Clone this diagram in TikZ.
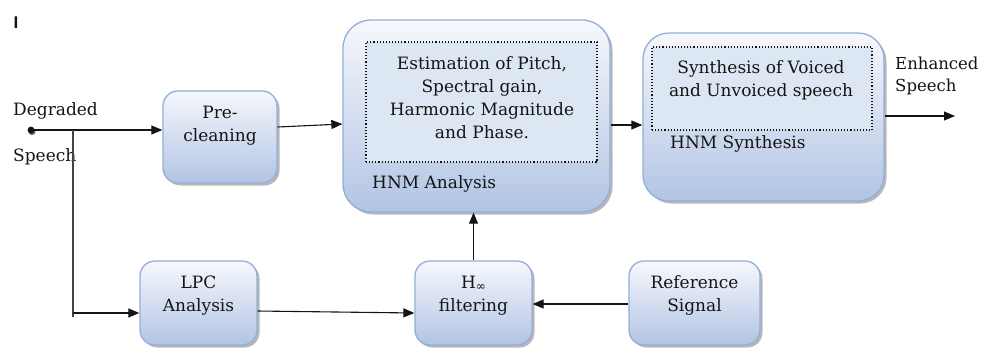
\documentclass[tikz,border=0pt]{standalone}
\usepackage{fontspec}
\setmainfont{DejaVu Serif}
\newfontfamily\barfont{Liberation Sans}
\usetikzlibrary{arrows.meta,shadows}
\definecolor{blocktop}{HTML}{F6F8FC}
\definecolor{blockbot}{HTML}{B2C4E4}
\definecolor{blockedge}{HTML}{93AEDA}
\definecolor{innerfill}{HTML}{DDE7F4}
\definecolor{ink}{HTML}{141414}
\newcommand\blocktext{\fontsize{17pt}{23pt}\selectfont}
\begin{document}
\begin{tikzpicture}[x=1pt,y=-1pt,
  blk/.style={draw=blockedge, line width=1.3pt, rounded corners=#1,
    top color=blocktop, bottom color=blockbot, inner sep=0pt,
    drop shadow={shadow xshift=2.5pt, shadow yshift=-2.5pt, opacity=0.4, fill=black!70}},
  inner/.style={draw=ink, dotted, line width=1.1pt, fill=innerfill, inner sep=0pt},
  lbl/.style={font=\blocktext, text=ink, align=center, inner sep=0pt},
  lbll/.style={font=\blocktext, text=ink, align=left, inner sep=0pt, anchor=west},
  arr/.style={draw=ink, line width=1.1pt, -{Triangle[length=11pt,width=9pt]}},
  wire/.style={draw=ink!80, line width=1.1pt}]
\useasboundingbox (0,0) rectangle (981,349);

% marker in the top-left corner
\node[font=\barfont\bfseries\fontsize{17pt}{17pt}\selectfont, text=ink, inner sep=0pt] (mark) at (16,23) {I};

% blocks
\node[blk=15pt, minimum width=114pt, minimum height=92pt] (pre) at (220,137) {};
\node[lbl] (pret) at (220,125.5) {Pre-\\cleaning};

\node[blk=28pt, minimum width=267pt, minimum height=192pt] (hnma) at (476.5,116) {};
\node[inner, minimum width=231pt, minimum height=120pt] (hnmai) at (481.5,102) {};
\node[lbl] (hnmat) at (482,97.5) {Estimation of Pitch,\\Spectral gain,\\Harmonic Magnitude\\and Phase.};
\node[lbll] (hnmal) at (372,184) {HNM Analysis};

\node[blk=26pt, minimum width=241pt, minimum height=168pt] (hnms) at (763.5,117) {};
\node[inner, minimum width=220pt, minimum height=83pt] (hnmsi) at (762,88.5) {};
\node[lbl] (hnmst) at (761,80) {Synthesis of Voiced\\and Unvoiced speech};
\node[lbll] (hnmsl) at (670,144) {HNM Synthesis};

\node[blk=15pt, minimum width=117pt, minimum height=84pt] (lpc) at (198.5,303) {};
\node[lbl] (lpct) at (198.5,295.5) {LPC\\Analysis};

\node[blk=15pt, minimum width=117pt, minimum height=84pt] (hinf) at (473.5,303) {};
\node[lbl] (hinft) at (473.5,295.5) {H\raisebox{-2.5pt}{\fontsize{12pt}{12pt}\selectfont ∞}\\filtering};

\node[blk=15pt, minimum width=131pt, minimum height=84pt] (ref) at (694.5,303) {};
\node[lbl] (reft) at (694.5,295.5) {Reference\\Signal};

% input and output labels
\node[lbll] (degr) at (13,111) {Degraded};
\node[lbll] (spin) at (13,157) {Speech};
\node[lbll, font=\fontsize{16.5pt}{23pt}\selectfont] (enh) at (895,63) {Enhanced};
\node[lbll, font=\fontsize{16.5pt}{23pt}\selectfont] (spout) at (895,87) {Speech};

% connectors
\coordinate (src) at (31,130);
\coordinate (br) at (73,130);
\coordinate (brlow) at (73,313);
\coordinate (out) at (955,116);
\fill[black!60] (32,131.5) circle (3.6pt);
\fill[ink] (src) circle (3.4pt);
\draw[arr] (src) -- (src -| pre.west);
\draw[wire] (br) -- ([yshift=-4pt]brlow);
\draw[arr] (brlow) -- (brlow -| lpc.west);
\draw[arr] ([yshift=10pt]pre.east) -- ([yshift=-8pt]hnma.west);
\draw[arr] ([yshift=-9pt]hnma.east) -- (hnms.west |- {(0,125)});
\draw[arr] (hnms.east |- out) -- (out);
\draw[arr] ([yshift=-8pt]lpc.east) -- ([yshift=-10pt]hinf.west);
\draw[arr] ([yshift=-1pt]ref.west) -- ([yshift=-1pt]hinf.east);
\draw[arr] (hinf.north) -- (hinf.north |- hnma.south);
\end{tikzpicture}
\end{document}
